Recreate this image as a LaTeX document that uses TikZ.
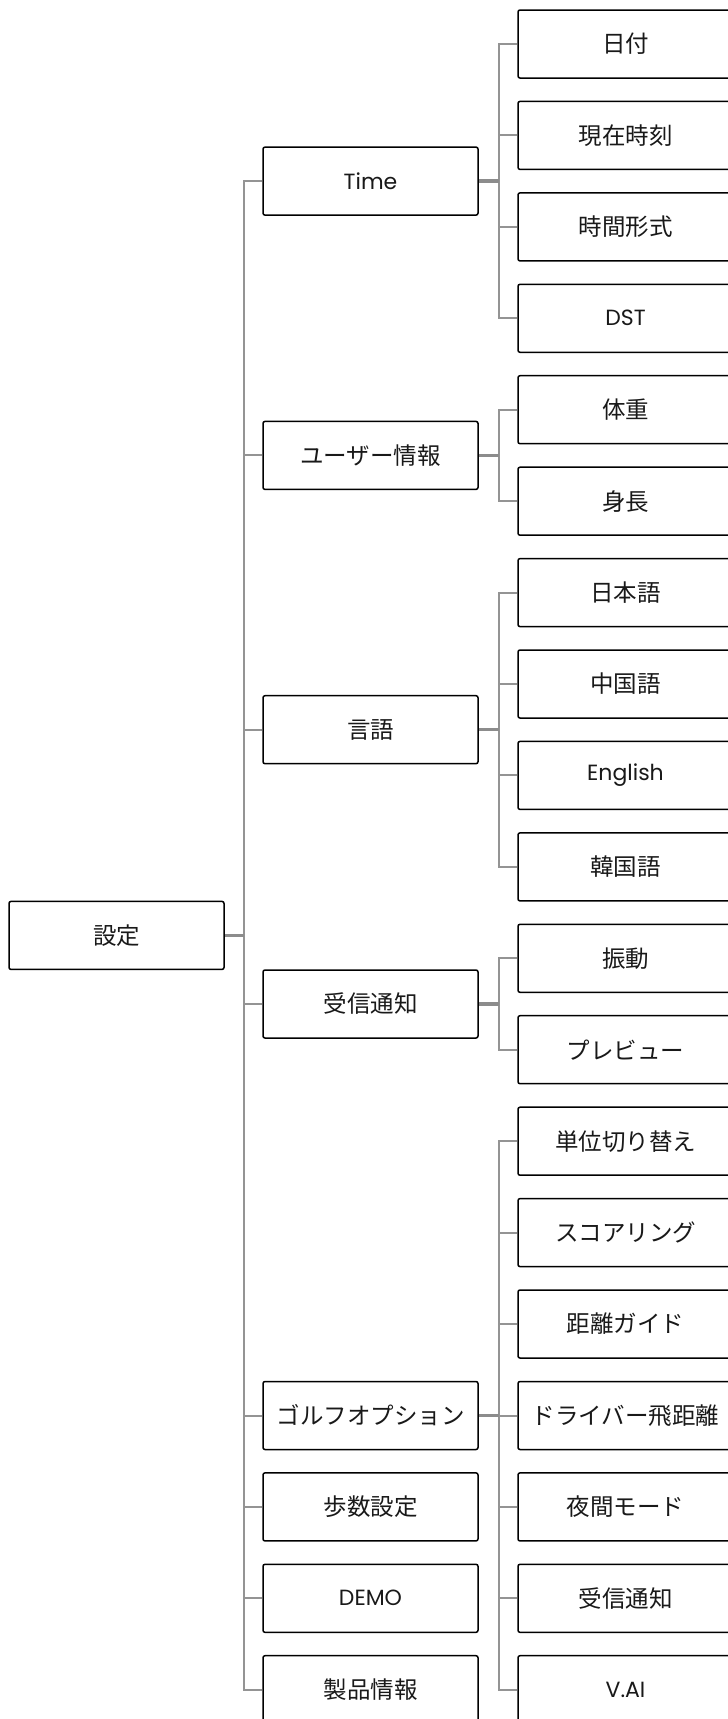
\documentclass[tikz,border=0pt]{standalone}
\usepackage{fontspec}
\setmainfont{Noto Sans CJK JP}
\newfontfamily\latinfont{Poppins}
\begin{document}
\begin{tikzpicture}[x=1pt,y=-1pt,
  box/.style={draw=black, line width=1.5pt, rounded corners=2pt, minimum width=215pt, minimum height=68pt, inner sep=0pt, font=\fontsize{23.5}{28}\selectfont, text=black!90},
  lat/.style={font=\latinfont\fontsize{22}{26}\selectfont},
  conn/.style={draw=black!42, line width=2pt},
  stub/.style={draw=black!45, line width=3.5pt}]
\useasboundingbox (0,0) rectangle (728,1719);
\fill[white] (0,0) rectangle (728,1719);
% root
\node[box] (root) at (116.5,935.4) {設定};
% level 1
\node[box,lat] (time) at (370.5,181.1) {Time};
\node[box] (user) at (370.5,455.4) {ユーザー情報};
\node[box] (lang) at (370.5,729.7) {言語};
\node[box] (notif) at (370.5,1004.0) {受信通知};
\node[box] (golf) at (370.5,1415.5) {ゴルフオプション};
\node[box] (steps) at (370.5,1506.9) {歩数設定};
\node[box,lat] (demo) at (370.5,1598.3) {DEMO};
\node[box] (prod) at (370.5,1689.7) {製品情報};
% level 2
\node[box] (date) at (625.5,44.0) {日付};
\node[box] (now) at (625.5,135.4) {現在時刻};
\node[box] (tfmt) at (625.5,226.9) {時間形式};
\node[box,lat] (dst) at (625.5,318.3) {DST};
\node[box] (weight) at (625.5,409.7) {体重};
\node[box] (height) at (625.5,501.2) {身長};
\node[box] (ja) at (625.5,592.6) {日本語};
\node[box] (zh) at (625.5,684.0) {中国語};
\node[box,lat] (en) at (625.5,775.4) {English};
\node[box] (ko) at (625.5,866.9) {韓国語};
\node[box] (vib) at (625.5,958.3) {振動};
\node[box] (prev) at (625.5,1049.7) {プレビュー};
\node[box] (unit) at (625.5,1141.2) {単位切り替え};
\node[box] (score) at (625.5,1232.6) {スコアリング};
\node[box] (guide) at (625.5,1324.0) {距離ガイド};
\node[box] (drv) at (625.5,1415.5) {ドライバー飛距離};
\node[box] (night) at (625.5,1506.9) {夜間モード};
\node[box] (gnotif) at (625.5,1598.3) {受信通知};
\node[box,lat] (vai) at (625.5,1689.7) {V.AI};
% junctions
\coordinate (jroot) at (243.5,935.4);
\coordinate (jtime) at (498.5,181.1);
\coordinate (juser) at (498.5,455.4);
\coordinate (jlang) at (498.5,729.7);
\coordinate (jnotif) at (498.5,1004.0);
\coordinate (jgolf) at (498.5,1415.5);
% connectors
\foreach \c in {time,user,lang,notif,golf,steps,demo,prod}
  \draw[conn] (jroot) |- (\c.west);
\draw[stub] (root.east) -- (jroot);
\foreach \c in {date,now,tfmt,dst}
  \draw[conn] (jtime) |- (\c.west);
\draw[stub] (time.east) -- (jtime);
\foreach \c in {weight,height}
  \draw[conn] (juser) |- (\c.west);
\draw[stub] (user.east) -- (juser);
\foreach \c in {ja,zh,en,ko}
  \draw[conn] (jlang) |- (\c.west);
\draw[stub] (lang.east) -- (jlang);
\foreach \c in {vib,prev}
  \draw[conn] (jnotif) |- (\c.west);
\draw[stub] (notif.east) -- (jnotif);
\foreach \c in {unit,score,guide,drv,night,gnotif,vai}
  \draw[conn] (jgolf) |- (\c.west);
\draw[stub] (golf.east) -- (jgolf);
\end{tikzpicture}
\end{document}
